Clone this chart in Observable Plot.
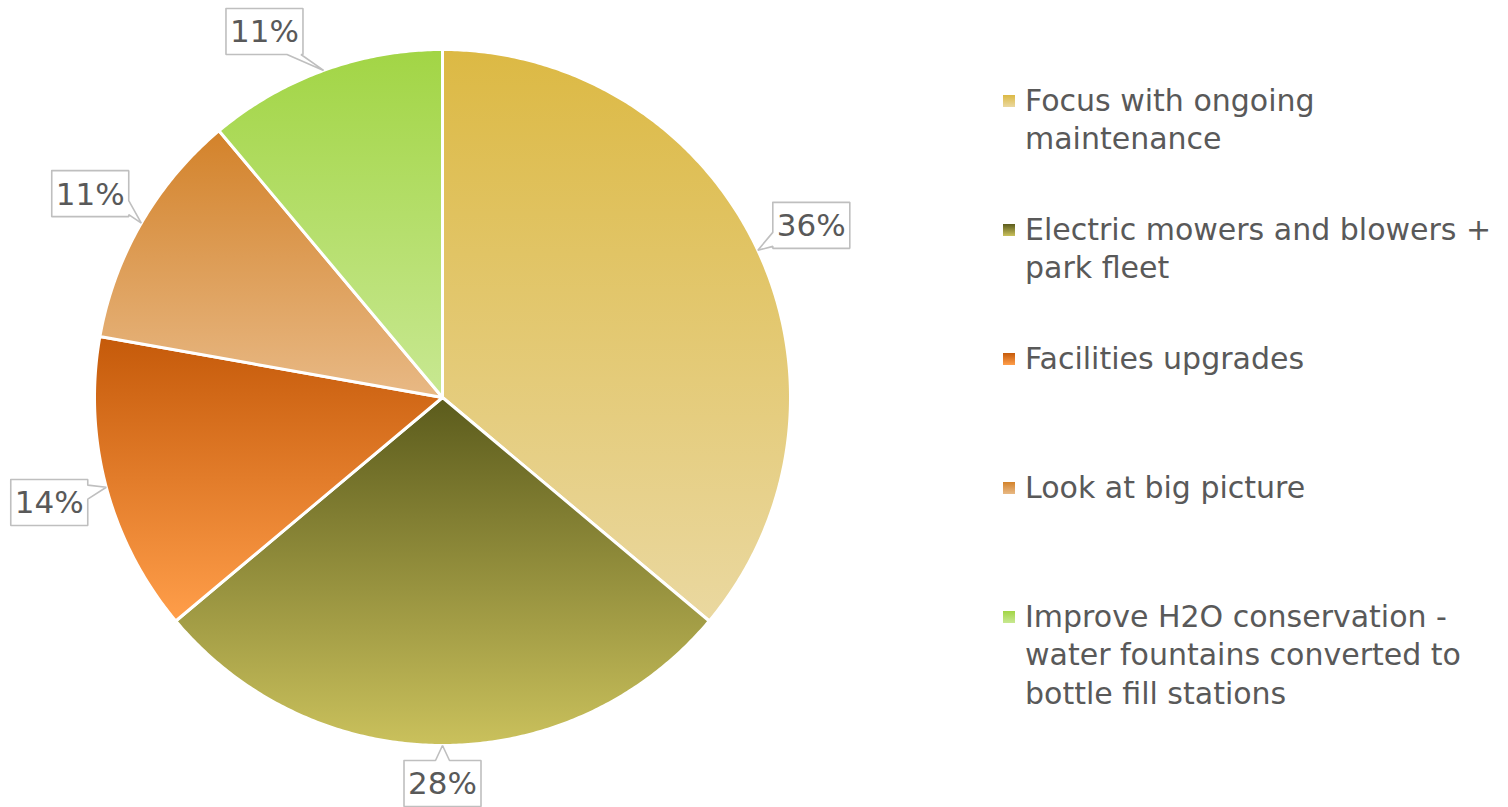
<!DOCTYPE html>
<html>
<head>
<meta charset="utf-8">
<script src="https://cdn.jsdelivr.net/npm/d3@7"></script>
<script src="https://cdn.jsdelivr.net/npm/@observablehq/plot@0.6"></script>
<style>
  html, body { margin: 0; padding: 0; background: #fff; }
  #wrap { position: relative; width: 1508px; height: 807px; overflow: hidden; }
  #chart { position: absolute; left: 0; top: 0; }
  .lg-item { position: absolute; left: 1003px; width: 505px; }
  .lg-swatch { position: absolute; left: 0; width: 12px; height: 12px; }
  .lg-text { position: absolute; left: 22px; width: 478px; font-family: "DejaVu Sans", sans-serif;
             font-size: 30px; line-height: 38.5px; color: #595959; }
</style>
</head>
<body>
<div id="wrap">
  <div id="chart"></div>
  <div id="legend"></div>
</div>
<script>
// ---- data ----
const categories = [
  "Focus with ongoing maintenance",
  "Electric mowers and blowers + park fleet",
  "Facilities upgrades",
  "Look at big picture",
  "Improve H2O conservation - water fountains converted to bottle fill stations"
];
const shares = [36.1, 27.8, 13.9, 11.1, 11.1];   // percent of responses
const topColors    = ["#DCB944", "#5B5B1C", "#C55A0A", "#D3822A", "#A2D545"];
const bottomColors = ["#EAD8A0", "#CAC15C", "#FF9E4A", "#E8B985", "#C8E892"];

// ---- layout ----
const W = 990, H = 807, cx = 442, cy = 397, R = 348;
const labelR = 407, boxHW = 38.5, boxHH = 23, ptrHalf = 7;
const textColor = "#595959";
const fmt = d3.format(".0%");

const arcs = d3.pie().sort(null).value(d => d)(shares);

// slice polygons (angles from 12 o'clock, clockwise; y grows downward)
const slicePts = [];
arcs.forEach((a, i) => {
  const key = "s" + i, fill = `url(#grad-${i})`;
  slicePts.push({key, fill, x: 0, y: 0});
  const n = Math.max(8, Math.ceil((a.endAngle - a.startAngle) / (Math.PI / 360)));
  for (let k = 0; k <= n; k++) {
    const t = a.startAngle + (a.endAngle - a.startAngle) * k / n;
    slicePts.push({key, fill, x: R * Math.sin(t), y: -R * Math.cos(t)});
  }
  slicePts.push({key, fill, x: 0, y: 0});
});

// callout labels
const yMin = -cy + 8 + boxHH, yMax = H - cy - 1 - boxHH;
const labelData = arcs.map((a, i) => {
  const m = (a.startAngle + a.endAngle) / 2;
  const s = Math.sin(m), c = Math.cos(m);
  let lx = labelR * s, ly = -labelR * c;
  const cl = Math.max(yMin, Math.min(yMax, ly));
  if (cl !== ly) {
    if (Math.abs(s) > 0.2) lx = Math.sign(s) * Math.sqrt(labelR * labelR - cl * cl);
    ly = cl;
  }
  return {i, x: lx, y: ly, tx: R * s, ty: -R * c, text: fmt(shares[i] / 100)};
});

function calloutPoly(d) {
  const {x, y, tx, ty} = d;
  const L = x - boxHW, Rr = x + boxHW, T = y - boxHH, B = y + boxHH;
  const dx = tx - x, dy = ty - y;
  let side;
  if (Math.abs(dx) * boxHH > Math.abs(dy) * boxHW) side = dx > 0 ? "right" : "left";
  else side = dy > 0 ? "bottom" : "top";
  const pts = [];
  const clampX = v => Math.max(L + ptrHalf + 2, Math.min(Rr - ptrHalf - 2, v));
  const clampY = v => Math.max(T + ptrHalf + 2, Math.min(B - ptrHalf - 2, v));
  pts.push([L, T]);
  if (side === "top") {
    const px = clampX(x + dx * boxHH / Math.abs(dy));
    pts.push([px - ptrHalf, T], [tx, ty], [px + ptrHalf, T]);
  }
  pts.push([Rr, T]);
  if (side === "right") {
    const py = clampY(y + dy * boxHW / Math.abs(dx));
    pts.push([Rr, py - ptrHalf], [tx, ty], [Rr, py + ptrHalf]);
  }
  pts.push([Rr, B]);
  if (side === "bottom") {
    const px = clampX(x + dx * boxHH / Math.abs(dy));
    pts.push([px + ptrHalf, B], [tx, ty], [px - ptrHalf, B]);
  }
  pts.push([L, B]);
  if (side === "left") {
    const py = clampY(y + dy * boxHW / Math.abs(dx));
    pts.push([L, py + ptrHalf], [tx, ty], [L, py - ptrHalf]);
  }
  pts.push([L, T]);
  return pts.map(([px, py]) => ({key: "c" + d.i, x: px, y: py}));
}
const calloutPts = labelData.flatMap(calloutPoly);

const svg = Plot.plot({
  width: W, height: H, margin: 0,
  style: {background: "white", overflow: "visible"},
  x: {domain: [-cx, W - cx], range: [0, W], axis: null},
  y: {domain: [-cy, H - cy], range: [0, H], axis: null},
  color: {type: "identity"},
  marks: [
    Plot.line(slicePts, {x: "x", y: "y", z: "key", fill: "fill", stroke: "white",
      strokeWidth: 3, strokeLinejoin: "round", curve: "linear"}),
    Plot.line(calloutPts, {x: "x", y: "y", z: "key", fill: "white", stroke: "#BFBFBF",
      strokeWidth: 1.6, strokeLinejoin: "miter", curve: "linear"}),
    Plot.text(labelData, {x: "x", y: "y", text: "text", fontSize: 31, fill: textColor,
      fontFamily: "DejaVu Sans, sans-serif", textAnchor: "middle", dy: 1})
  ]
});

// gradients per slice (vertical, over each slice's bounding box)
const defs = d3.select(svg).insert("defs", ":first-child");
topColors.forEach((c, i) => {
  const g = defs.append("linearGradient").attr("id", `grad-${i}`)
    .attr("x1", 0).attr("y1", 0).attr("x2", 0).attr("y2", 1);
  g.append("stop").attr("offset", "0%").attr("stop-color", c);
  g.append("stop").attr("offset", "100%").attr("stop-color", bottomColors[i]);
});
document.getElementById("chart").appendChild(svg);

// legend
const legend = document.getElementById("legend");
const firstLine = 101, pitch = 129, lineH = 38.5;
categories.forEach((name, i) => {
  const item = document.createElement("div");
  item.className = "lg-item";
  item.style.top = (firstLine - lineH / 2 + i * pitch) + "px";
  const sw = document.createElement("div");
  sw.className = "lg-swatch";
  sw.style.top = (lineH / 2 - 6) + "px";
  sw.style.background = `linear-gradient(${topColors[i]}, ${bottomColors[i]})`;
  const tx = document.createElement("div");
  tx.className = "lg-text";
  tx.textContent = name;
  item.appendChild(sw); item.appendChild(tx);
  legend.appendChild(item);
});
</script>
</body>
</html>
